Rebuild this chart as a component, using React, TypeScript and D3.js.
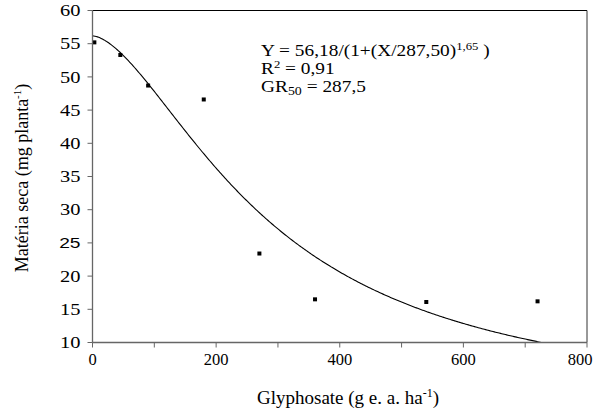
import { useRef, useEffect } from 'react'
import * as d3 from 'd3'

// observed points (dose, dry matter)
const doses = [3, 45, 90, 180, 270, 360, 540, 720]
const dryMatter = [55.2, 53.3, 48.7, 46.6, 23.4, 16.5, 16.1, 16.2]

const xTicks = [0, 200, 400, 600, 800]
const xMinorTicks = [100, 300, 500, 700]
const yTicks = [10, 15, 20, 25, 30, 35, 40, 45, 50, 55, 60]

// fitted log-logistic model shown in the chart
const fitA = 56.18
const fitGR50 = 287.5
const fitB = 1.65

const W = 593
const H = 410
const serif = "'Liberation Serif', 'DejaVu Serif', serif"

export default function App() {
  const svgRef = useRef<SVGSVGElement | null>(null)

  useEffect(() => {
    const svg = d3.select(svgRef.current)
    svg.selectAll('*').remove()

    const margin = { top: 10.5, right: 6, bottom: 67.5, left: 92.5 }
    const iW = W - margin.left - margin.right
    const iH = H - margin.top - margin.bottom

    const x = d3.scaleLinear().domain([0, 800]).range([0, iW])
    const y = d3.scaleLinear().domain([10, 60]).range([iH, 0])

    const g = svg.append('g').attr('transform', `translate(${margin.left},${margin.top})`)

    // frame top / right
    g.append('line').attr('x1', 0).attr('x2', iW).attr('y1', 0).attr('y2', 0).attr('stroke', '#000')
    g.append('line').attr('x1', iW).attr('x2', iW).attr('y1', 0).attr('y2', iH).attr('stroke', '#333')

    // fitted curve
    const curveX = d3.range(0, 800.5, 2)
    const curvePts = curveX
      .map((d) => [d, fitA / (1 + Math.pow(d / fitGR50, fitB))] as [number, number])
      .filter((p) => p[1] >= 10)
    g.append('path')
      .attr('fill', 'none')
      .attr('stroke', '#000')
      .attr('stroke-width', 1.1)
      .attr('d', d3.line<[number, number]>().x((p) => x(p[0])).y((p) => y(p[1]))(curvePts))

    // markers
    doses.forEach((d, i) => {
      g.append('rect')
        .attr('x', x(d) - 2)
        .attr('y', y(dryMatter[i]) - 2)
        .attr('width', 4)
        .attr('height', 4)
        .attr('fill', '#000')
    })

    // axes
    const axisColor = '#666'
    g.append('line').attr('x1', 0).attr('x2', iW).attr('y1', iH).attr('y2', iH).attr('stroke', axisColor).attr('stroke-width', 1.3)
    g.append('line').attr('x1', 0).attr('x2', 0).attr('y1', 0).attr('y2', iH).attr('stroke', axisColor).attr('stroke-width', 1.3)

    xTicks.concat(xMinorTicks).forEach((t) => {
      g.append('line').attr('x1', x(t)).attr('x2', x(t)).attr('y1', iH).attr('y2', iH + 5).attr('stroke', axisColor)
    })
    xTicks.forEach((t, i) => {
      const last = i === xTicks.length - 1
      g.append('text')
        .attr('x', last ? iW + 5.5 : x(t))
        .attr('y', iH + 22)
        .attr('text-anchor', last ? 'end' : 'middle')
        .style('font-family', serif)
        .attr('font-size', '16.5px')
        .text(t)
    })

    // y labels are a bit wider than tall in the original
    yTicks.forEach((t) => {
      g.append('line').attr('x1', -5).attr('x2', 0).attr('y1', y(t)).attr('y2', y(t)).attr('stroke', axisColor)
      g.append('text')
        .attr('transform', `translate(-12,${y(t)}) scale(1.28,1)`)
        .attr('dy', '0.35em')
        .attr('text-anchor', 'end')
        .style('font-family', t === 25 ? "'Liberation Sans', Arial, sans-serif" : serif)
        .attr('font-size', t === 25 ? '15px' : '16px')
        .text(t)
    })

    // axis titles
    const xt = svg.append('text')
      .attr('x', 348)
      .attr('y', 404)
      .attr('text-anchor', 'middle')
      .style('font-family', serif)
      .attr('font-size', '19px')
    xt.append('tspan').text('Glyphosate (g e. a. ha')
    xt.append('tspan').attr('dy', -7).attr('font-size', '12px').text('-1')
    xt.append('tspan').attr('dy', 7).text(')')

    const yt = svg.append('text')
      .attr('transform', `translate(28,178) rotate(-90)`)
      .attr('text-anchor', 'middle')
      .style('font-family', serif)
      .attr('font-size', '18px')
    yt.append('tspan').text('Matéria seca (mg planta')
    yt.append('tspan').attr('dy', -7).attr('font-size', '11px').text('-1')
    yt.append('tspan').attr('dy', 7).text(')')

    // equation block
    const ex = 261
    const eq = svg.append('g').attr('transform', `translate(${ex},0) scale(1.21,1)`)
    const eqSize = '16px'
    const e1 = eq.append('text').attr('x', 0).attr('y', 56).style('font-family', serif).attr('font-size', eqSize)
    e1.append('tspan').text('Y = 56,18/(1+(X/287,50)')
    e1.append('tspan').attr('dy', -6).attr('font-size', '10.5px').text('1,65')
    e1.append('tspan').attr('dy', 6).text(' )')

    const e2 = eq.append('text').attr('x', 0).attr('y', 74).style('font-family', serif).attr('font-size', eqSize)
    e2.append('tspan').text('R')
    e2.append('tspan').attr('dy', -6).attr('font-size', '10.5px').text('2')
    e2.append('tspan').attr('dy', 6).text(' = 0,91')

    const e3 = eq.append('text').attr('x', 0).attr('y', 92).style('font-family', serif).attr('font-size', eqSize)
    e3.append('tspan').text('GR')
    e3.append('tspan').attr('dy', 3).attr('font-size', '11.5px').text('50')
    e3.append('tspan').attr('dy', -3).text(' = 287,5')
  }, [])

  return (
    <svg
      ref={svgRef}
      width={W}
      height={H}
      style={{ position: 'absolute', left: 0, top: 0, background: '#fff' }}
    />
  )
}
